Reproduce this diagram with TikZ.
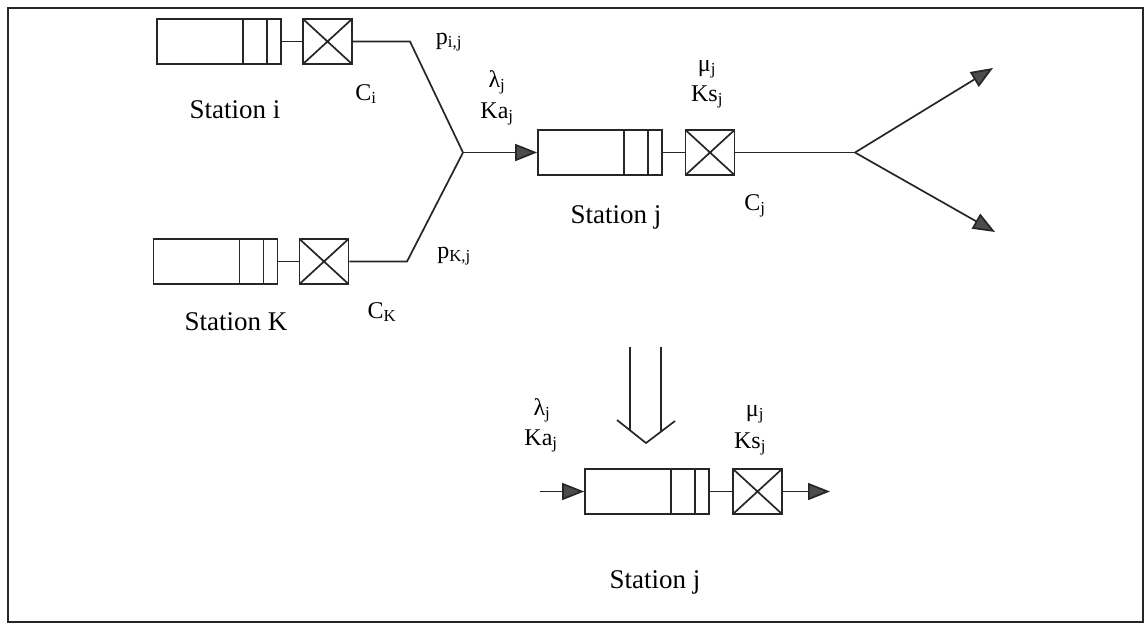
\documentclass[tikz,border=0pt]{standalone}
\usepackage{fontspec}
\setmainfont{Liberation Serif}
\usetikzlibrary{arrows.meta,calc}
\tikzset{
  ln/.style={line width=1.7pt, draw=black!85},
  queue/.style={draw, ln, minimum width=124pt, minimum height=45pt, inner sep=0pt},
  server/.style={draw, ln, minimum width=49pt, minimum height=45pt, inner sep=0pt,
    path picture={\draw[ln] (path picture bounding box.south west)--(path picture bounding box.north east)
      (path picture bounding box.north west)--(path picture bounding box.south east);}},
  lab/.style={font=\fontsize{24}{28}\selectfont, anchor=base, inner sep=0pt},
  stname/.style={font=\fontsize{27}{32}\selectfont, anchor=base, inner sep=0pt},
  arr/.style={ln, -{Triangle[length=22pt,width=17pt,fill=black!70]}},
}
\newcommand\qlines[1]{\draw[ln] ([xshift=-39pt]#1.north east)--([xshift=-39pt]#1.south east)
  ([xshift=-15pt]#1.north east)--([xshift=-15pt]#1.south east);}
\begin{document}
\begin{tikzpicture}[x=1pt,y=-1pt]
\useasboundingbox (0,0) rectangle (1148,625);
\draw[line width=2.2pt, black!85] (8,8) rectangle (1143,622);

% Station i
\node[queue] (qi) at (219,41.5) {};
\qlines{qi}
\node[server] (si) at (327.5,41.5) {};
\draw[ln] (qi.east) -- (si.west);
\node[stname] (ti) at (235,118) {Station i};
\node[lab] (ci) at (366,100) {C\textsubscript{i}};

% Station K
\node[queue] (qk) at (215.5,261.5) {};
\qlines{qk}
\node[server] (sk) at (324,261.5) {};
\draw[ln] (qk.east) -- (sk.west);
\node[stname] (tk) at (236,330) {Station K};
\node[lab] (ck) at (382,318) {C\textsubscript{K}};

% junction
\coordinate (J) at (463,152.5);
\coordinate (ki) at (410,41.5);
\coordinate (kk) at (407,261.5);
\draw[ln] (si.east) -- (ki) -- (J);
\draw[ln] (sk.east) -- (kk) -- (J);
\node[lab] (pij) at (449,44) {p\textsubscript{i,j}};
\node[lab] (pkj) at (454,258) {p\textsubscript{K,j}};

% Station j
\node[queue] (qj) at (600,152.5) {};
\qlines{qj}
\node[server] (sj) at (710,152.5) {};
\draw[ln] (qj.east) -- (sj.west);
\draw[arr] (J) -- (qj.west);
\node[lab] (lj) at (497,87) {λ\textsubscript{j}};
\node[lab] (kaj) at (497,118) {Ka\textsubscript{j}};
\node[lab] (mj) at (707,71) {μ\textsubscript{j}};
\node[lab] (ksj) at (707,101) {Ks\textsubscript{j}};
\node[stname] (tj) at (616,223) {Station j};
\node[lab] (cj) at (755,210) {C\textsubscript{j}};

% split
\coordinate (S) at (855,152.5);
\coordinate (o1) at (993,68);
\coordinate (o2) at (995,232);
\draw[ln] (sj.east) -- (S);
\draw[arr] (S) -- (o1);
\draw[arr] (S) -- (o2);

% double arrow
\draw[ln] (630,347) -- (630,430.3);
\draw[ln] (661,347) -- (661,431.6);
\draw[ln] (617,420) -- (646,443) -- (675,421);

% bottom station j
\node[queue] (bq) at (647,491.5) {};
\qlines{bq}
\node[server] (bs) at (757.5,491.5) {};
\draw[ln] (bq.east) -- (bs.west);
\coordinate (bin) at (540,491.5);
\coordinate (bout) at (830,491.5);
\draw[arr] (bin) -- (bq.west);
\draw[arr] (bs.east) -- (bout);
\node[lab] (blj) at (542,415) {λ\textsubscript{j}};
\node[lab] (bkaj) at (541,445) {Ka\textsubscript{j}};
\node[lab] (bmj) at (755,416) {μ\textsubscript{j}};
\node[lab] (bksj) at (750,448) {Ks\textsubscript{j}};
\node[stname] (btj) at (655,588) {Station j};
\end{tikzpicture}
\end{document}
